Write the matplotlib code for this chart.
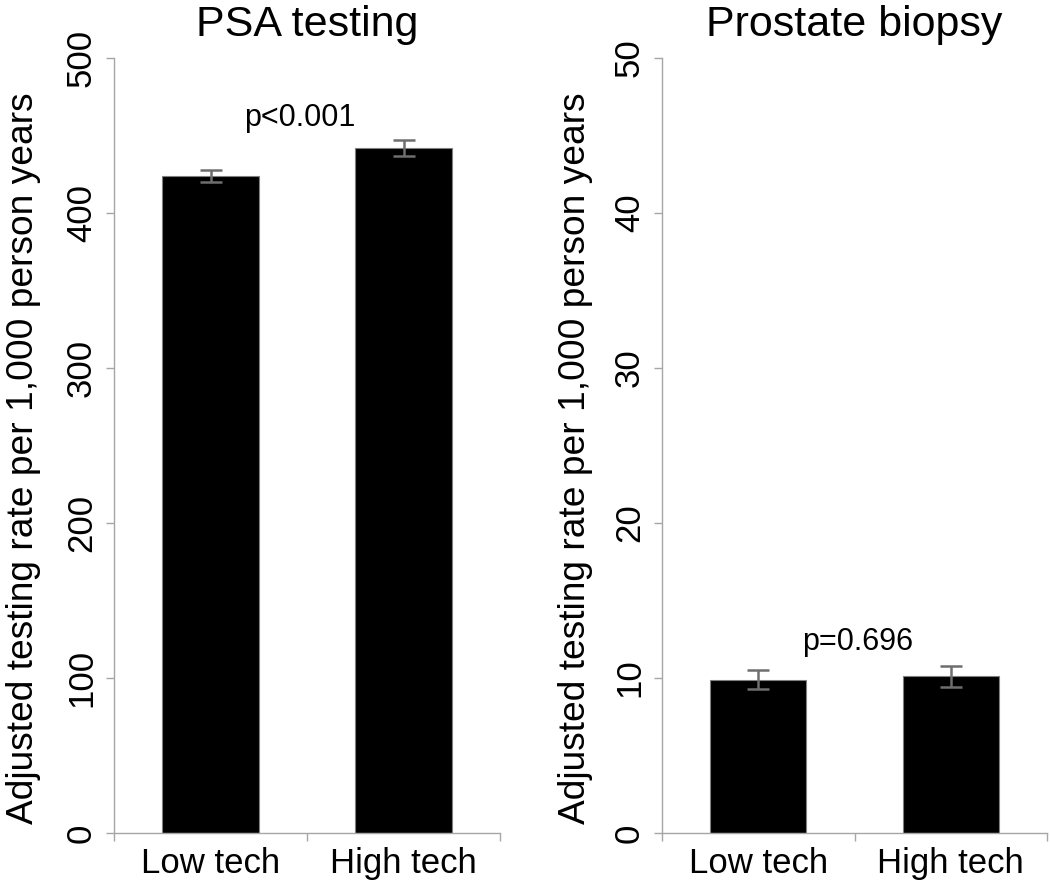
import matplotlib
matplotlib.use("Agg")
import matplotlib.pyplot as plt

plt.rcParams['font.family'] = ['Liberation Sans', 'DejaVu Sans']

categories = ["Low tech", "High tech"]
psa_values = [424, 442]
psa_err = [4, 5]
biopsy_values = [9.9, 10.1]
biopsy_err = [0.6, 0.7]
titles = ["PSA testing", "Prostate biopsy"]
ylims = [500, 50]
yticks_list = [[0, 100, 200, 300, 400, 500], [0, 10, 20, 30, 40, 50]]
pvals = ["p<0.001", "p=0.696"]
p_x = [0.465, 0.515]
p_y = [461, 12.3]
ylabel = "Adjusted testing rate per 1,000 person years"

W, H = 1050, 894
fig = plt.figure(figsize=(W / 100, H / 100), dpi=100)

axes_px = [(114, 500), (662, 1047)]
label_x = [-0.19, -0.18]
y_bottom, y_top = 833, 58

data = [(psa_values, psa_err), (biopsy_values, biopsy_err)]
axis_gray = "#a6a6a6"
err_gray = "#6e6e6e"

for i, ((x0, x1), (vals, errs)) in enumerate(zip(axes_px, data)):
    ax = fig.add_axes([x0 / W, (H - y_bottom) / H, (x1 - x0) / W, (y_bottom - y_top) / H])
    xs = list(range(len(categories)))
    ax.bar(xs, vals, width=0.5, color="black", edgecolor="#808080", linewidth=0.8, zorder=2)
    ax.errorbar(xs, vals, yerr=errs, fmt="none", ecolor=err_gray, elinewidth=1.8,
                capsize=8, capthick=1.8, zorder=3)
    ax.set_xlim(-0.5, 1.5)
    ax.set_ylim(0, ylims[i])
    ax.set_yticks(yticks_list[i])
    ax.set_yticklabels([str(t) for t in yticks_list[i]], rotation=90, va="center")
    ax.set_xticks([-0.5, 0.5, 1.5], minor=False)
    ax.set_xticklabels([])
    ax.set_xticks(xs, minor=True)
    ax.set_xticklabels(categories, minor=True, fontsize=25)
    ax.tick_params(axis="x", which="minor", length=0, pad=10)
    ax.tick_params(axis="x", which="major", length=6, width=1, color=axis_gray, direction="out")
    ax.tick_params(axis="y", length=6, width=1, color=axis_gray, labelsize=25, pad=5.5)
    for side in ["top", "right"]:
        ax.spines[side].set_visible(False)
    for side in ["left", "bottom"]:
        ax.spines[side].set_color(axis_gray)
        ax.spines[side].set_linewidth(1)
    ax.set_ylabel(ylabel, fontsize=26.7)
    ax.yaxis.set_label_coords(label_x[i], 0.483)
    ax.set_title(titles[i], fontsize=31, pad=16)
    ax.text(p_x[i], p_y[i], pvals[i], ha="center", va="center", fontsize=22)

fig.savefig("out.png", dpi=100, facecolor="white")
